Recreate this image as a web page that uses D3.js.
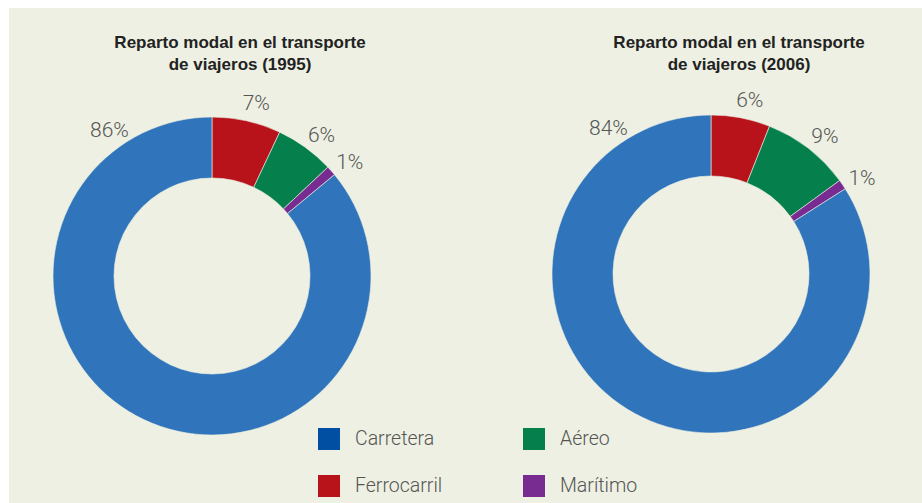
<!DOCTYPE html>
<html>
<head>
<meta charset="utf-8">
<script src="https://cdn.jsdelivr.net/npm/d3@7"></script>
<style>
body { margin: 0; background: #fff; }
.title { font-family: "Liberation Sans", Arial, sans-serif; font-weight: bold; font-size: 17px; fill: #222; }
.pct, .legendText { font-family: Roboto, "Liberation Sans", sans-serif; font-weight: 300; fill: #555; }
.pct { font-size: 21px; }
.legendText { font-size: 19.5px; }
</style>
</head>
<body>
<svg id="chart"></svg>
<script>
const categories = ["Ferrocarril", "Aéreo", "Marítimo", "Carretera"];
const values1995 = [7, 6, 1, 86];
const values2006 = [6, 9, 1, 84];
const titles = [["Reparto modal en el transporte", "de viajeros (1995)"], ["Reparto modal en el transporte", "de viajeros (2006)"]];
const legendOrder = ["Carretera", "Aéreo", "Ferrocarril", "Marítimo"];

var width = 922, height = 503;

var svg = d3.select("#chart")
  .attr("width", width)
  .attr("height", height);

svg.append("rect")
  .attr("x", 9).attr("y", 8)
  .attr("width", width - 9).attr("height", height - 8)
  .style("fill", "#edf0e2");

const colour = d3.scaleOrdinal()
  .domain(categories)
  .range(["#b8121b", "#05804c", "#782b90", "#3075bb"]);
const legendColour = d3.scaleOrdinal()
  .domain(categories)
  .range(["#b8121b", "#05804c", "#782b90", "#004fa3"]);

const outerR = 159, innerR = 98, labelR = 179;

const pie = d3.pie().sort(null).value(d => d.value);
const arc = d3.arc().innerRadius(innerR).outerRadius(outerR);

function labelAngle(d) {
  // the big slice gets its label up on the left, not at its centre
  return d.data.name == "Carretera" ? -0.61 : (d.startAngle + d.endAngle) / 2 + 0.03;
}

function donut(values, cx, cy, titleX, title) {
  let data = categories.map((c, i) => ({name: c, value: values[i]}));
  let g = svg.append("g").attr("transform", `translate(${cx},${cy})`);

  g.selectAll("path")
    .data(pie(data))
    .enter()
    .append("path")
    .attr("d", arc)
    .style("fill", d => colour(d.data.name))
    .style("stroke", "#edf0e2")
    .style("stroke-width", 0.6);

  g.selectAll("text.pct")
    .data(pie(data))
    .enter()
    .append("text")
    .attr("class", "pct")
    .attr("text-anchor", "middle")
    .attr("dy", "0.36em")
    .attr("x", d => Math.sin(labelAngle(d)) * labelR)
    .attr("y", d => -Math.cos(labelAngle(d)) * labelR)
    .text(d => d.data.value + "%");

  svg.selectAll(null)
    .data(title)
    .enter()
    .append("text")
    .attr("class", "title")
    .attr("x", titleX)
    .attr("y", (d, i) => 48 + i * 22)
    .attr("text-anchor", "middle")
    .text(d => d);
}

donut(values1995, 212, 276, 240, titles[0]);
donut(values2006, 711, 274, 739, titles[1]);

// legend
let legend = svg.selectAll("g.legend")
  .data(legendOrder)
  .enter()
  .append("g")
  .attr("class", "legend")
  .attr("transform", (d, i) => `translate(${318 + (i % 2) * 205},${428 + Math.floor(i / 2) * 47})`);

legend.append("rect")
  .attr("width", 22).attr("height", 22)
  .style("fill", d => legendColour(d));

legend.append("text")
  .attr("class", "legendText")
  .attr("x", 37).attr("y", 17)
  .text(d => d);
</script>
</body>
</html>
